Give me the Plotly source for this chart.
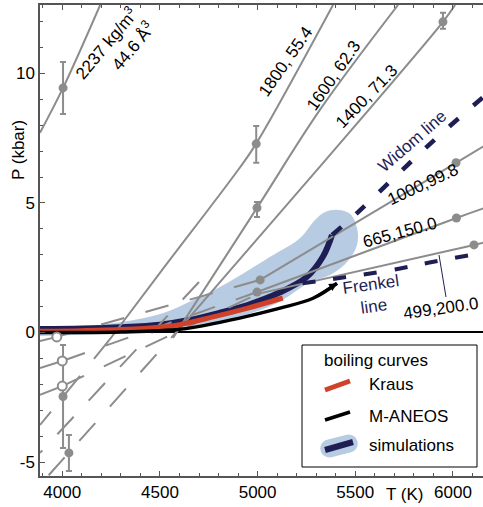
import math
import plotly.graph_objects as go

# ---------------- data (T in K, P in kbar) ----------------
# boiling curves
kraus_T = [3886, 4100, 4300, 4500, 4600, 4772, 4945, 5129]
kraus_P = [0.05, 0.07, 0.11, 0.20, 0.30, 0.60, 0.93, 1.33]
aneos_T = [3886, 4300, 4600, 4800, 4945, 5115, 5284, 5407]
aneos_P = [0.00, 0.02, 0.12, 0.38, 0.62, 0.94, 1.32, 1.90]
sim_T = [3886, 4100, 4300, 4500, 4650, 4800, 4945, 5115, 5253, 5335, 5381]
sim_P = [0.13, 0.15, 0.20, 0.30, 0.48, 0.75, 1.05, 1.55, 2.15, 2.93, 3.76]
# simulation uncertainty envelope (upper edge, rounded end, lower edge)
band_T = [3886, 4193, 4501, 4670, 4844, 5064, 5218, 5294, 5346, 5412, 5473, 5509,
          5509, 5458, 5371, 5269, 5100, 4844, 4501, 3886]
band_P = [0.19, 0.29, 0.71, 1.25, 1.91, 2.92, 3.65, 4.34, 4.65, 4.73, 4.58, 4.03,
          3.38, 2.72, 2.22, 1.95, 1.14, 0.48, 0.10, -0.14]
# Widom and Frenkel lines
widom_T = [5381, 5509, 5729, 5934, 6160]
widom_P = [3.76, 4.61, 6.19, 7.63, 9.12]
frenkel_T = [5230, 5355, 5525, 5730, 5880, 6160]
frenkel_P = [1.90, 2.03, 2.22, 2.47, 2.70, 3.08]

# isochores: solid (stable) parts
iso2237_T = [3886, 4004, 4194]
iso2237_P = [7.71, 9.44, 12.64]
iso1800_T = [4240, 4500, 4900, 4992, 5386]
iso1800_P = [-0.30, 2.30, 6.27, 7.28, 12.64]
iso1600_T = [4567, 4997, 5319, 5719]
iso1600_P = [-0.21, 4.81, 8.59, 12.64]
iso1400_T = [4639, 5319, 5949, 6011]
iso1400_P = [0.48, 6.40, 11.99, 12.64]
iso1000_T = [5013, 6016, 6160]
iso1000_P = [2.03, 6.55, 7.20]
iso665_T = [4997, 6018, 6160]
iso665_P = [1.56, 4.42, 4.80]
iso499_T = [5000, 6108, 6160]
iso499_P = [1.49, 3.38, 3.47]
# isochores: dashed (metastable) continuations
iso1800d_T = [4240, 3886]
iso1800d_P = [-0.30, -3.57]
iso1600d_T = [4700, 3886]
iso1600d_P = [1.95, -4.65]
iso1400d_T = [4639, 3920]
iso1400d_P = [0.48, -5.60]
iso1000d_T = [3972, 5013]
iso1000d_P = [-0.17, 2.03]
iso665d_T = [4000, 4997]
iso665d_P = [-1.10, 1.56]
iso499d_T = [4000, 5000]
iso499d_P = [-2.07, 1.49]
# low-T solid stubs
stub1_T = [3886, 3972]
stub1_P = [-0.33, -0.17]
stub2_T = [3886, 4000]
stub2_P = [-1.37, -1.10]
stub3_T = [3886, 4000]
stub3_P = [-2.41, -2.07]

# simulation points
pts_T = [4004, 4993, 4997, 5949, 6016, 6018, 6108, 5013, 4997, 4004, 4034]
pts_P = [9.44, 7.28, 4.81, 11.99, 6.55, 4.42, 3.38, 2.03, 1.56, -2.47, -4.65]
pts_eup = [1.00, 0.69, 0.23, 0.35, 0.0, 0.0, 0.0, 0.0, 0.0, 1.99, 0.69]
pts_edn = [1.01, 0.73, 0.35, 0.27, 0.0, 0.0, 0.0, 0.0, 0.0, 1.99, 0.70]
open_T = [3972, 4000, 4000]
open_P = [-0.17, -1.10, -2.07]

x_ticks = [4000, 4500, 5000, 5500, 6000]
y_ticks = [-5, 0, 5, 10]
y_ticktext = ["-5", "0", "5", "10"]

# ---------------- styling ----------------
W, H = 483, 507
ML, MR, MT, MB = 40, 0, 5, 31
GRAY = "#8c8c8c"
NAVY = "#1e1e55"
RED = "#cf4129"
BLUE = "#b7cbe3"
FONT = "Liberation Sans, Arial, sans-serif"

xr = [3886, 6154]
yr = [-5.54, 12.64]

def px(x):  # pixel -> paper x
    return (x - ML) / (W - ML - MR)

def py(y):  # pixel -> paper y
    return (H - MB - y) / (H - MT - MB)

fig = go.Figure()

fig.add_trace(go.Scatter(x=band_T, y=band_P, fill="toself", fillcolor=BLUE,
                         line=dict(width=0, shape="spline"), mode="lines", hoverinfo="skip"))
fig.add_trace(go.Scatter(x=sim_T, y=sim_P, mode="lines",
                         line=dict(color=NAVY, width=6, shape="spline")))

def gline(T, P, dash="solid"):
    fig.add_trace(go.Scatter(x=T, y=P, mode="lines",
                             line=dict(color=GRAY, width=2, dash=dash, shape="spline")))

for T, P in [(iso2237_T, iso2237_P), (iso1800_T, iso1800_P), (iso1600_T, iso1600_P),
             (iso1400_T, iso1400_P), (iso1000_T, iso1000_P), (iso665_T, iso665_P),
             (iso499_T, iso499_P), (stub1_T, stub1_P), (stub2_T, stub2_P), (stub3_T, stub3_P)]:
    gline(T, P)
for T, P in [(iso1800d_T, iso1800d_P), (iso1600d_T, iso1600d_P), (iso1400d_T, iso1400d_P),
             (iso1000d_T, iso1000d_P), (iso665d_T, iso665d_P), (iso499d_T, iso499d_P)]:
    gline(T, P, dash="24px,22px")

fig.add_trace(go.Scatter(x=kraus_T, y=kraus_P, mode="lines",
                         line=dict(color=RED, width=5, shape="spline")))
fig.add_trace(go.Scatter(x=aneos_T, y=aneos_P, mode="lines",
                         line=dict(color="black", width=3.5, shape="spline")))
fig.add_trace(go.Scatter(x=widom_T, y=widom_P, mode="lines",
                         line=dict(color=NAVY, width=4.5, dash="12px,20px", shape="spline")))
fig.add_trace(go.Scatter(x=frenkel_T, y=frenkel_P, mode="lines",
                         line=dict(color=NAVY, width=4, dash="13px,18px", shape="spline")))

fig.add_trace(go.Scatter(x=pts_T, y=pts_P, mode="markers",
                         marker=dict(color=GRAY, size=9),
                         error_y=dict(type="data", array=pts_eup, arrayminus=pts_edn,
                                      color=GRAY, thickness=2, width=3)))
fig.add_trace(go.Scatter(x=open_T, y=open_P, mode="markers",
                         marker=dict(color="white", size=9, line=dict(color=GRAY, width=2))))

ann = []
def label(x, y, text, angle, color="black", size=17, align="center"):
    ann.append(dict(x=px(x), y=py(y), xref="paper", yref="paper", text=text,
                    textangle=angle, showarrow=False, align=align,
                    xanchor="center", yanchor="middle",
                    font=dict(family=FONT, size=size, color=color)))

label(114, 50, "2237 kg/m<sup>3</sup><br>44.6 Å<sup>3</sup>", -50, align="right")
label(286, 62, "1800, 55.4", -55)
label(334, 76, "1600, 62.3", -55)
label(367, 97, "1400, 71.3", -46)
label(412, 141, "Widom line", -41, color=NAVY)
label(423, 184, "1000,99.8", -25)
label(400, 232, "665,150.0", -15)
label(372, 295, "Frenkel<br>line", -8, color=NAVY)
label(441, 308, "499,200.0", -8)
label(18, 150, "P (kbar)", -90)
label(404, 494, "T (K)", 0)
# legend texts
def ltext(x, y, t):
    ann.append(dict(x=px(x), y=py(y), xref="paper", yref="paper", text=t,
                    showarrow=False, xanchor="left", yanchor="middle",
                    font=dict(family=FONT, size=17, color="black")))
ltext(322, 360, "boiling curves")
ltext(367, 384, "Kraus")
ltext(367, 416, "M-ANEOS")
ltext(367, 445, "simulations")
# arrow head at end of M-ANEOS curve
ann.append(dict(x=aneos_T[-1], y=aneos_P[-1], ax=aneos_T[-2], ay=aneos_P[-2],
                xref="x", yref="y", axref="x", ayref="y", text="", showarrow=True,
                arrowhead=2, arrowsize=0.8, arrowwidth=2, arrowcolor="black"))

shapes = []
# pointer for 499 label
shapes.append(dict(type="line", xref="paper", yref="paper", x0=px(439), y0=py(255),
                   x1=px(446), y1=py(297), line=dict(color=NAVY, width=1)))
# legend box
shapes.append(dict(type="rect", xref="paper", yref="paper", x0=px(302), y0=py(467),
                   x1=px(477), y1=py(345), line=dict(color="black", width=1),
                   fillcolor="white", layer="above"))
# capsule for simulations
cx, cy, hl, hw, ang = 339, 446, 19, 9, math.radians(-14)
pts = []
for k in range(0, 181, 15):
    a = math.radians(90 - k)
    pts.append((hl - hw + hw * math.cos(a), hw * math.sin(a)))
for k in range(0, 181, 15):
    a = math.radians(-90 - k)
    pts.append((-(hl - hw) + hw * math.cos(a), hw * math.sin(a)))
path = ""
for i, (u, v) in enumerate(pts):
    X = cx + u * math.cos(ang) - v * math.sin(ang)
    Y = cy + u * math.sin(ang) + v * math.cos(ang)
    path += ("M" if i == 0 else "L") + f"{px(X):.4f},{py(Y):.4f}"
path += "Z"
shapes.append(dict(type="path", xref="paper", yref="paper", path=path,
                   fillcolor=BLUE, line=dict(width=0), layer="above"))
for (x0, y0, x1, y1, c, w) in [(325, 390, 350, 381, RED, 5),
                               (325, 420, 350, 412, "black", 3.5),
                               (325, 450, 353, 442, NAVY, 6)]:
    shapes.append(dict(type="line", xref="paper", yref="paper", x0=px(x0), y0=py(y0),
                       x1=px(x1), y1=py(y1), line=dict(color=c, width=w), layer="above"))

fig.update_layout(
    width=W, height=H, margin=dict(l=ML, r=MR, t=MT, b=MB),
    paper_bgcolor="white", plot_bgcolor="white", showlegend=False,
    font=dict(family=FONT, size=17, color="black"),
    annotations=ann, shapes=shapes,
    xaxis=dict(range=xr, tickvals=x_ticks, ticks="inside", ticklen=5, tickcolor="#555",
               showline=True, linecolor="#555", linewidth=1.5, mirror="ticks",
               showgrid=False, zeroline=False, tickfont=dict(size=17),
               minor=dict(dtick=100, ticks="inside", ticklen=3, tickcolor="#555")),
    yaxis=dict(range=yr, tickvals=y_ticks, ticktext=y_ticktext, ticks="inside", ticklen=5,
               tickcolor="#555", showline=True, linecolor="#555", linewidth=1.5,
               showgrid=False, zeroline=True, zerolinecolor="black", zerolinewidth=1.5,
               tickfont=dict(size=17),
               minor=dict(dtick=1, ticks="inside", ticklen=3, tickcolor="#555")),
)

fig.write_html("out.html")
